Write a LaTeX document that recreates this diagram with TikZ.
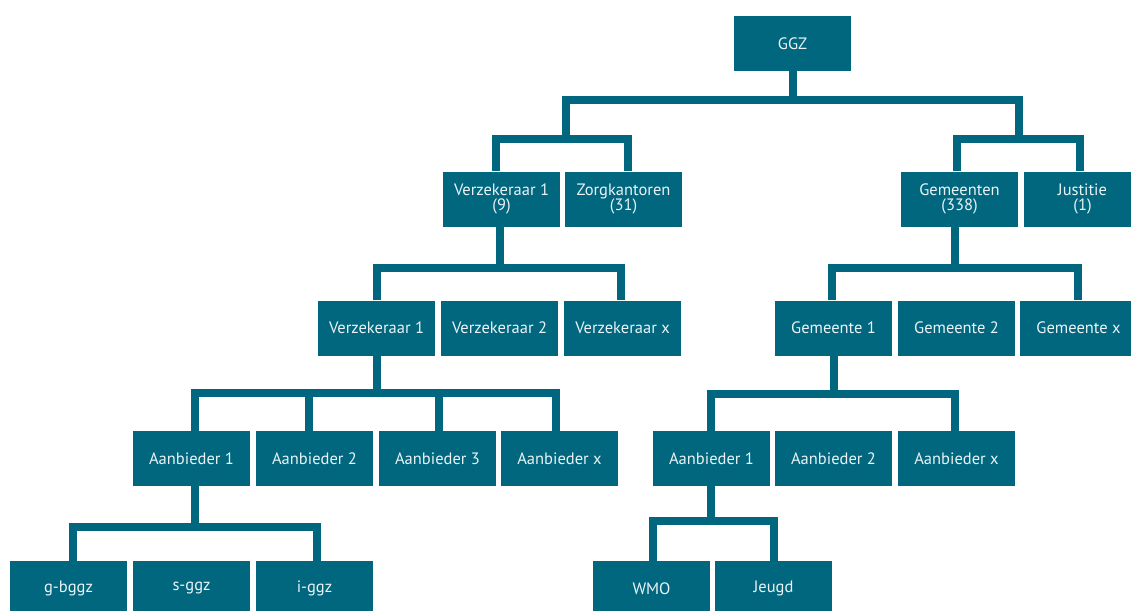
\documentclass[tikz,border=0pt]{standalone}
\usepackage{fontspec}
\setmainfont{PT Sans}
\usetikzlibrary{backgrounds}
\definecolor{ggzteal}{RGB}{0,103,127}
\definecolor{boxtext}{RGB}{235,243,246}
\begin{document}
\begin{tikzpicture}[x=1pt,y=-1pt,
  box/.style={fill=ggzteal, draw=none, minimum width=117pt, minimum height=55pt,
    inner sep=0pt, text=boxtext, font=\fontsize{16.5}{15.5}\selectfont, align=center},
  conn/.style={draw=ggzteal, line width=8pt, line join=miter}]
\useasboundingbox (0,0) rectangle (1131,610);
\clip (0,0) rectangle (1131,610);
% level 1
\node[box] (ggz) at (792.5,43.5) {GGZ};
% level 2
\node[box] (v9) at (501.5,199) {Verzekeraar 1\\(9)};
\node[box] (zk) at (623.5,199) {Zorgkantoren\\(31)};
\node[box] (gm) at (959.5,199) {Gemeenten\\(338)};
\node[box] (js) at (1082.5,199) {Justitie\\(1)};
% level 3
\node[box] (v1) at (376.5,328) {Verzekeraar 1};
\node[box] (v2) at (499.5,328) {Verzekeraar 2};
\node[box] (vx) at (622.5,328) {Verzekeraar x};
\node[box] (g1) at (833.5,328) {Gemeente 1};
\node[box] (g2) at (956.5,328) {Gemeente 2};
\node[box] (gx) at (1078.5,328) {Gemeente x};
% level 4
\node[box] (a1) at (191.5,458.5) {Aanbieder 1};
\node[box] (a2) at (314.5,458.5) {Aanbieder 2};
\node[box] (a3) at (437.5,458.5) {Aanbieder 3};
\node[box] (ax) at (559.5,458.5) {Aanbieder x};
\node[box] (b1) at (711.5,458.5) {Aanbieder 1};
\node[box] (b2) at (833.5,458.5) {Aanbieder 2};
\node[box] (bx) at (956.5,458.5) {Aanbieder x};
% level 5
\node[box] (gb) at (68.5,588.5) {g-bggz};
\node[box] (sg) at (191.5,588.5) {s-ggz};
\node[box] (ig) at (314.5,588.5) {i-ggz};
\node[box] (wm) at (651.5,588.5) {WMO};
\node[box] (jg) at (773.5,588.5) {Jeugd};
% junction coordinates
\coordinate (h1) at (566,100); \coordinate (h2) at (1019,100);
\coordinate (b2l) at (496,139); \coordinate (b2r) at (628,139);
\coordinate (c2l) at (957,139); \coordinate (c2r) at (1080,139);
\coordinate (d1) at (500,268); \coordinate (b3l) at (377,268); \coordinate (b3r) at (621,268);
\coordinate (d2) at (955,268); \coordinate (c3l) at (832,268); \coordinate (c3r) at (1078,268);
\coordinate (d3) at (377,393); \coordinate (b4l) at (195,393); \coordinate (b4r) at (556,393);
\coordinate (b4a) at (309,393); \coordinate (b4b) at (439,393);
\coordinate (d4) at (834,394); \coordinate (c4l) at (711,394); \coordinate (c4r) at (955,394);
\coordinate (d5) at (195,527); \coordinate (b5l) at (73,527); \coordinate (b5r) at (317,527);
\coordinate (d6) at (711,521); \coordinate (c5l) at (653,521); \coordinate (c5r) at (774,521);
\begin{scope}[on background layer]
  \draw[conn] (ggz.south) -- (ggz.south |- h1);
  \draw[conn] (h1 |- b2l) -- (h1) -- (h2) -- (h2 |- b2l);
  \draw[conn] (v9.north -| b2l) -- (b2l) -- (b2r) -- (zk.north -| b2r);
  \draw[conn] (gm.north -| c2l) -- (c2l) -- (c2r) -- (js.north -| c2r);
  \draw[conn] (v9.south -| d1) -- (d1);
  \draw[conn] (v1.north -| b3l) -- (b3l) -- (b3r) -- (vx.north -| b3r);
  \draw[conn] (gm.south -| d2) -- (d2);
  \draw[conn] (g1.north -| c3l) -- (c3l) -- (c3r) -- (gx.north -| c3r);
  \draw[conn] (v1.south -| d3) -- (d3);
  \draw[conn] (a1.north -| b4l) -- (b4l) -- (b4r) -- (ax.north -| b4r);
  \draw[conn] (b4a) -- (a2.north -| b4a);
  \draw[conn] (b4b) -- (a3.north -| b4b);
  \draw[conn] (g1.south -| d4) -- (d4);
  \draw[conn] (b1.north -| c4l) -- (c4l) -- (c4r) -- (bx.north -| c4r);
  \draw[conn] (a1.south -| d5) -- (d5);
  \draw[conn] (gb.north -| b5l) -- (b5l) -- (b5r) -- (ig.north -| b5r);
  \draw[conn] (b1.south -| d6) -- (d6);
  \draw[conn] (wm.north -| c5l) -- (c5l) -- (c5r) -- (jg.north -| c5r);
\end{scope}
\end{tikzpicture}
\end{document}
